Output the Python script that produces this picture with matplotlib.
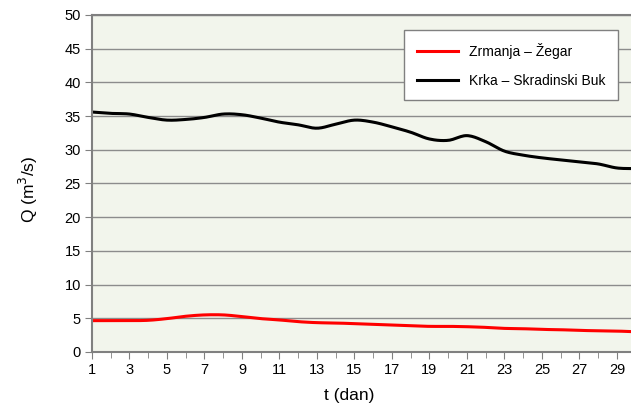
import numpy as np
import matplotlib
matplotlib.use('Agg')
import matplotlib.pyplot as plt
from matplotlib.ticker import MultipleLocator

plt.rcParams['font.family'] = ['Liberation Sans', 'DejaVu Sans']

# dnevni protoci (m3/s)
dani = list(range(1, 31))
zrmanja = [4.65, 4.65, 4.65, 4.7, 4.95, 5.3, 5.5, 5.5, 5.25, 4.95,
           4.75, 4.5, 4.35, 4.3, 4.2, 4.1, 4.0, 3.9, 3.8, 3.8,
           3.75, 3.65, 3.5, 3.45, 3.35, 3.3, 3.2, 3.15, 3.1, 3.0]
krka = [35.6, 35.4, 35.3, 34.8, 34.4, 34.5, 34.8, 35.3, 35.2, 34.7,
        34.1, 33.7, 33.2, 33.8, 34.4, 34.1, 33.4, 32.6, 31.6, 31.4,
        32.1, 31.2, 29.8, 29.2, 28.8, 28.5, 28.2, 27.9, 27.3, 27.2]


def smooth(x, y, n=12):
    # Catmull-Rom krivulja kroz tocke (kao "smoothed line" u Excelu)
    x = np.asarray(x, float)
    y = np.asarray(y, float)
    px = np.concatenate([[2 * x[0] - x[1]], x, [2 * x[-1] - x[-2]]])
    py = np.concatenate([[2 * y[0] - y[1]], y, [2 * y[-1] - y[-2]]])
    t = np.linspace(0, 1, n, endpoint=False)
    xs, ys = [], []
    for i in range(1, len(px) - 2):
        for arr, out in ((px, xs), (py, ys)):
            p0, p1, p2, p3 = arr[i - 1], arr[i], arr[i + 1], arr[i + 2]
            out.extend(0.5 * (2 * p1 + (-p0 + p2) * t + (2 * p0 - 5 * p1 + 4 * p2 - p3) * t ** 2
                              + (-p0 + 3 * p1 - 3 * p2 + p3) * t ** 3))
    xs.append(x[-1])
    ys.append(y[-1])
    return xs, ys


fig = plt.figure(figsize=(6.31, 4.08), dpi=100)
ax = fig.add_axes([0.1458, 0.1373, 0.8542, 0.826])
ax.set_facecolor('#f2f5ec')

ax.plot(*smooth(dani, zrmanja), color='#ff0000', lw=2.2, label='Zrmanja – Žegar')
ax.plot(*smooth(dani, krka), color='black', lw=2.2, label='Krka – Skradinski Buk')

ax.set_xlim(1, 29.75)
ax.set_ylim(0, 50)
ax.set_xticks(range(1, 30, 2))
ax.xaxis.set_minor_locator(MultipleLocator(1))
ax.yaxis.set_major_locator(MultipleLocator(5))
ax.grid(axis='y', color='#8c8c8c', lw=1.0)
ax.set_axisbelow(True)

for s in ['left', 'bottom', 'top']:
    ax.spines[s].set_color('#808080')
    ax.spines[s].set_linewidth(1.5)
ax.spines['right'].set_visible(False)
ax.tick_params(axis='both', which='both', color='#808080', direction='out', labelsize=10.5, pad=3)
ax.tick_params(axis='x', which='major', length=5)
ax.tick_params(axis='x', which='minor', length=4)
ax.tick_params(axis='y', length=5)

ax.set_xlabel('t (dan)', fontsize=12.5)
ax.set_ylabel('Q (m$^3$/s)', fontsize=12.5)
ax.xaxis.set_label_coords(0.477, -0.108)
ax.yaxis.set_label_coords(-0.097, 0.484)

leg = ax.legend(loc='upper left', bbox_to_anchor=(0.579, 0.955), fontsize=10, frameon=True,
                fancybox=False, edgecolor='#808080', framealpha=1, borderpad=0.9,
                labelspacing=1.1, handlelength=3.0, borderaxespad=0)
leg.get_frame().set_linewidth(1.0)

fig.savefig('out.png', dpi=100)
